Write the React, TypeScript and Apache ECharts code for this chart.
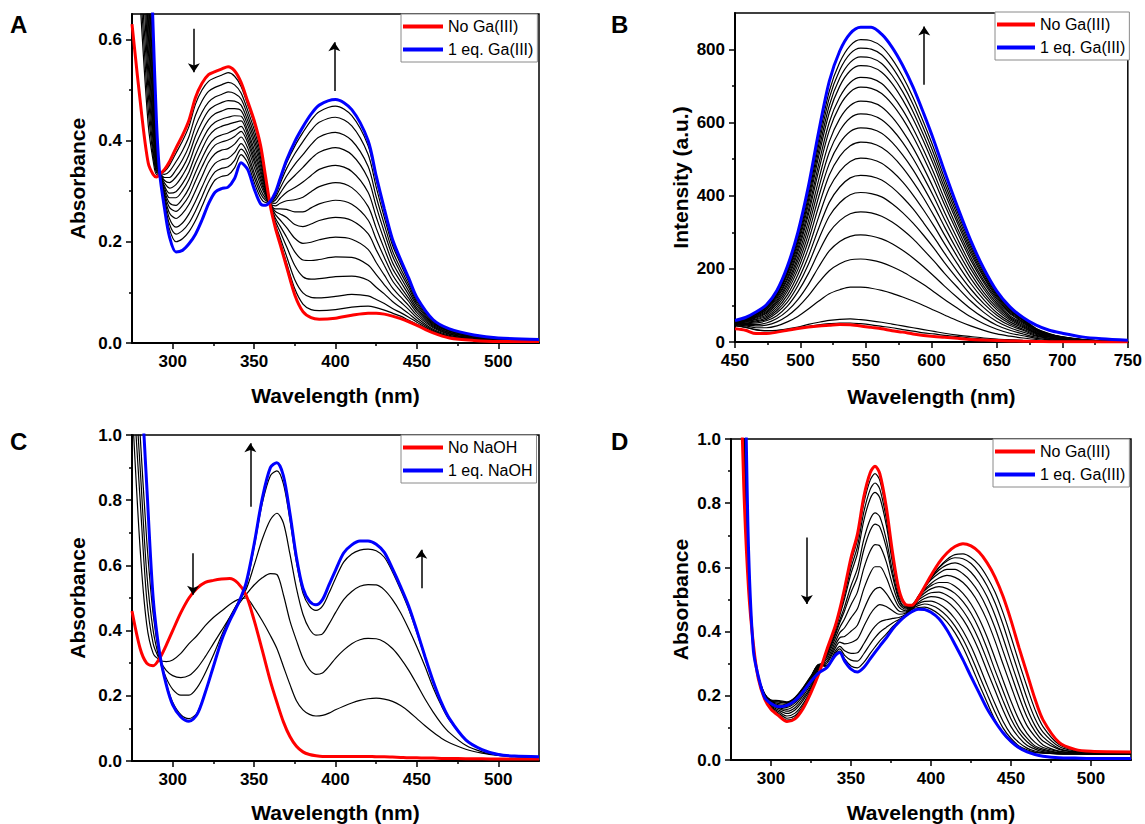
import React, { useEffect, useRef } from "react";
import * as echarts from "echarts";

const FONT = '"Liberation Sans", Arial, Helvetica, sans-serif';

// ---------------- Panel A : UV-Vis titration with Ga(III) ----------------
const aWl = [275, 281, 285, 288, 290, 292, 295, 298, 302, 306, 310, 314, 318, 322, 326, 330, 334, 338, 342, 346, 350, 354, 357, 360, 363, 366, 370, 375, 380, 385, 390, 400, 410, 420, 425, 430, 435, 440, 445, 450, 460, 470, 485, 500, 525];
const aRed = [0.63, 0.45, 0.355, 0.333, 0.328, 0.333, 0.343, 0.358, 0.385, 0.41, 0.44, 0.485, 0.513, 0.53, 0.536, 0.541, 0.546, 0.538, 0.515, 0.478, 0.44, 0.39, 0.33, 0.27, 0.228, 0.195, 0.15, 0.095, 0.062, 0.05, 0.047, 0.049, 0.055, 0.059, 0.059, 0.057, 0.053, 0.048, 0.042, 0.035, 0.02, 0.01, 0.005, 0.003, 0.003];
const aBlue = [1.3, 1.1, 0.9, 0.62, 0.44, 0.335, 0.265, 0.21, 0.18, 0.183, 0.196, 0.215, 0.243, 0.275, 0.298, 0.305, 0.308, 0.325, 0.356, 0.343, 0.305, 0.275, 0.272, 0.28, 0.297, 0.325, 0.362, 0.398, 0.427, 0.452, 0.47, 0.481, 0.461, 0.4, 0.33, 0.265, 0.205, 0.165, 0.128, 0.09, 0.046, 0.028, 0.016, 0.01, 0.007];
const aMix01 = [0.95, 0.62, 0.43, 0.36, 0.333, 0.335, 0.339, 0.351, 0.375, 0.399, 0.428, 0.472, 0.5, 0.517, 0.524, 0.529, 0.534, 0.527, 0.507, 0.471, 0.433, 0.384, 0.327, 0.27, 0.231, 0.2, 0.158, 0.107, 0.077, 0.066, 0.064, 0.066, 0.071, 0.073, 0.07, 0.065, 0.059, 0.053, 0.045, 0.037, 0.021, 0.011, 0.005, 0.003, 0.003];
const aMix02 = [0.95, 0.66, 0.46, 0.37, 0.337, 0.335, 0.333, 0.339, 0.358, 0.38, 0.408, 0.45, 0.478, 0.497, 0.505, 0.51, 0.515, 0.51, 0.494, 0.46, 0.422, 0.375, 0.322, 0.271, 0.235, 0.208, 0.171, 0.125, 0.099, 0.09, 0.089, 0.092, 0.096, 0.093, 0.086, 0.078, 0.068, 0.06, 0.051, 0.041, 0.023, 0.012, 0.006, 0.004, 0.004];
const aMix03 = [0.95, 0.7, 0.49, 0.38, 0.34, 0.335, 0.327, 0.327, 0.342, 0.362, 0.389, 0.428, 0.456, 0.476, 0.486, 0.491, 0.496, 0.493, 0.482, 0.45, 0.412, 0.366, 0.318, 0.272, 0.241, 0.22, 0.19, 0.153, 0.131, 0.126, 0.127, 0.131, 0.132, 0.124, 0.11, 0.097, 0.082, 0.07, 0.058, 0.045, 0.025, 0.013, 0.007, 0.004, 0.004];
const aMix04 = [0.95, 0.75, 0.52, 0.395, 0.345, 0.335, 0.321, 0.317, 0.328, 0.346, 0.372, 0.409, 0.437, 0.459, 0.469, 0.475, 0.479, 0.478, 0.47, 0.44, 0.402, 0.358, 0.314, 0.273, 0.247, 0.231, 0.209, 0.18, 0.164, 0.163, 0.165, 0.17, 0.169, 0.154, 0.135, 0.115, 0.096, 0.081, 0.066, 0.05, 0.027, 0.015, 0.008, 0.005, 0.004];
const aMix05 = [0.95, 0.8, 0.55, 0.41, 0.35, 0.335, 0.316, 0.306, 0.313, 0.331, 0.355, 0.391, 0.419, 0.441, 0.453, 0.458, 0.463, 0.463, 0.459, 0.431, 0.393, 0.35, 0.31, 0.274, 0.254, 0.243, 0.228, 0.207, 0.197, 0.199, 0.204, 0.209, 0.205, 0.185, 0.159, 0.134, 0.109, 0.091, 0.074, 0.055, 0.03, 0.017, 0.009, 0.006, 0.005];
const aMix06 = [0.95, 0.85, 0.58, 0.425, 0.355, 0.335, 0.31, 0.296, 0.299, 0.315, 0.338, 0.372, 0.4, 0.423, 0.436, 0.442, 0.446, 0.449, 0.448, 0.421, 0.383, 0.342, 0.306, 0.275, 0.26, 0.255, 0.248, 0.234, 0.23, 0.235, 0.242, 0.248, 0.242, 0.216, 0.184, 0.153, 0.123, 0.102, 0.082, 0.06, 0.032, 0.018, 0.01, 0.006, 0.005];
const aMix07 = [0.95, 0.9, 0.61, 0.44, 0.36, 0.335, 0.306, 0.287, 0.287, 0.301, 0.323, 0.355, 0.383, 0.408, 0.422, 0.428, 0.432, 0.436, 0.439, 0.413, 0.375, 0.335, 0.302, 0.275, 0.265, 0.265, 0.264, 0.259, 0.259, 0.267, 0.275, 0.282, 0.274, 0.243, 0.205, 0.169, 0.135, 0.111, 0.088, 0.065, 0.034, 0.02, 0.011, 0.007, 0.005];
const aMix08 = [0.95, 0.95, 0.64, 0.46, 0.365, 0.335, 0.3, 0.277, 0.272, 0.285, 0.306, 0.337, 0.365, 0.39, 0.405, 0.411, 0.415, 0.421, 0.428, 0.404, 0.366, 0.327, 0.298, 0.276, 0.271, 0.276, 0.281, 0.283, 0.288, 0.299, 0.309, 0.317, 0.307, 0.27, 0.227, 0.186, 0.147, 0.121, 0.095, 0.069, 0.036, 0.021, 0.012, 0.007, 0.005];
const aMix09 = [0.95, 1.0, 0.67, 0.48, 0.37, 0.335, 0.295, 0.268, 0.26, 0.272, 0.291, 0.32, 0.348, 0.374, 0.391, 0.397, 0.401, 0.408, 0.418, 0.396, 0.358, 0.32, 0.295, 0.277, 0.276, 0.286, 0.298, 0.307, 0.318, 0.331, 0.343, 0.351, 0.339, 0.298, 0.249, 0.203, 0.159, 0.13, 0.102, 0.074, 0.038, 0.023, 0.013, 0.008, 0.006];
const aMix10 = [0.95, 1.05, 0.7, 0.5, 0.38, 0.335, 0.29, 0.257, 0.246, 0.256, 0.274, 0.301, 0.329, 0.357, 0.374, 0.381, 0.384, 0.393, 0.407, 0.386, 0.348, 0.312, 0.291, 0.278, 0.282, 0.296, 0.315, 0.331, 0.347, 0.364, 0.377, 0.386, 0.372, 0.325, 0.27, 0.219, 0.172, 0.139, 0.109, 0.078, 0.04, 0.024, 0.014, 0.008, 0.006];
const aMix11 = [0.95, 1.1, 0.74, 0.52, 0.39, 0.335, 0.284, 0.246, 0.229, 0.237, 0.255, 0.28, 0.308, 0.336, 0.355, 0.362, 0.365, 0.376, 0.394, 0.375, 0.337, 0.303, 0.286, 0.279, 0.287, 0.306, 0.33, 0.353, 0.372, 0.392, 0.407, 0.416, 0.4, 0.349, 0.289, 0.234, 0.182, 0.147, 0.115, 0.082, 0.042, 0.025, 0.014, 0.009, 0.006];
const aMix12 = [0.95, 1.1, 0.78, 0.55, 0.4, 0.335, 0.278, 0.235, 0.215, 0.222, 0.237, 0.261, 0.289, 0.318, 0.338, 0.345, 0.348, 0.361, 0.383, 0.366, 0.328, 0.295, 0.282, 0.279, 0.291, 0.315, 0.345, 0.374, 0.398, 0.42, 0.436, 0.446, 0.429, 0.373, 0.308, 0.248, 0.193, 0.156, 0.121, 0.086, 0.044, 0.027, 0.015, 0.009, 0.007];
const aMix13 = [0.95, 1.1, 0.82, 0.58, 0.42, 0.335, 0.273, 0.225, 0.2, 0.206, 0.22, 0.242, 0.27, 0.3, 0.322, 0.329, 0.332, 0.346, 0.372, 0.356, 0.318, 0.287, 0.278, 0.28, 0.295, 0.321, 0.356, 0.389, 0.416, 0.44, 0.457, 0.468, 0.449, 0.39, 0.322, 0.259, 0.2, 0.161, 0.125, 0.088, 0.045, 0.027, 0.016, 0.01, 0.007];
const aMixes = [aMix01, aMix02, aMix03, aMix04, aMix05, aMix06, aMix07, aMix08, aMix09, aMix10, aMix11, aMix12, aMix13];

// ---------------- Panel B : emission titration ----------------
const bWl = [450, 458, 466, 474, 482, 490, 498, 506, 514, 522, 530, 538, 546, 554, 562, 570, 578, 586, 594, 602, 610, 620, 630, 640, 650, 660, 670, 680, 690, 700, 715, 730, 750];
const bRed = [36, 32, 23, 23, 27, 32, 37, 41, 44, 46, 48, 47, 44, 40, 36, 31, 27, 22, 18, 15, 13, 10, 7, 5.5, 4.4, 3, 2.2, 1.5, 1, 0.8, 0.5, 0.3, 0.2];
const bBlue = [59, 67, 82, 102, 141, 207, 300, 425, 577, 713, 796, 844, 861, 861, 842, 806, 757, 697, 626, 550, 467, 369, 278, 201, 139, 96, 67, 46, 32, 24, 14, 9, 5];
const bMix01 = [45, 40, 33, 31, 31, 33, 38, 43, 47, 50, 52, 52, 50, 47, 43, 39, 34, 30, 25, 22, 18, 15, 11, 8, 6, 5, 3.5, 2.3, 1.7, 1.1, 0.7, 0.5, 0.3];
const bMix02 = [45, 41, 34, 31, 32, 36, 41, 48, 54, 59, 62, 63, 61, 58, 54, 49, 44, 39, 34, 29, 24, 19, 15, 11, 8, 6, 4.3, 2.8, 2, 1.3, 0.8, 0.6, 0.3];
const bMix03 = [47, 44, 39, 39, 44, 55, 70, 90, 112, 132, 143, 150, 150, 147, 141, 133, 123, 112, 100, 87, 74, 58, 44, 32, 22, 16, 11, 6.8, 4.4, 2.8, 1.5, 0.9, 0.5];
const bMix04 = [48, 46, 44, 46, 55, 71, 95, 126, 163, 195, 214, 225, 227, 224, 217, 206, 192, 175, 157, 137, 116, 92, 69, 50, 35, 24, 17, 10, 6.4, 4.1, 2.2, 1.2, 0.7];
const bMix05 = [49, 48, 48, 52, 64, 85, 116, 157, 206, 249, 275, 289, 293, 290, 282, 269, 251, 230, 206, 180, 153, 121, 91, 66, 46, 32, 22, 13, 8.2, 5.2, 2.7, 1.5, 0.8];
const bMix06 = [50, 50, 52, 58, 72, 98, 137, 187, 247, 300, 332, 351, 356, 353, 344, 328, 307, 282, 252, 221, 188, 149, 112, 81, 56, 39, 27, 16, 9.9, 6.3, 3.2, 1.7, 0.9];
const bMix07 = [51, 52, 55, 62, 80, 109, 154, 212, 282, 344, 381, 403, 409, 406, 397, 378, 354, 325, 292, 256, 217, 172, 129, 94, 65, 45, 32, 18, 11, 7.2, 3.6, 2, 1];
const bMix08 = [52, 54, 58, 66, 86, 119, 169, 234, 312, 382, 424, 449, 456, 453, 443, 423, 396, 364, 326, 286, 243, 192, 145, 105, 73, 50, 35, 21, 13, 8, 4, 2.1, 1.1];
const bMix09 = [53, 55, 61, 70, 92, 129, 184, 256, 343, 421, 467, 494, 503, 500, 489, 467, 438, 402, 361, 317, 269, 213, 160, 116, 80, 55, 39, 23, 14, 8.8, 4.4, 2.3, 1.2];
const bMix10 = [54, 57, 63, 74, 98, 139, 198, 277, 372, 457, 508, 537, 547, 544, 532, 509, 477, 438, 394, 345, 293, 232, 174, 126, 88, 60, 42, 25, 15, 9.6, 4.7, 2.5, 1.3];
const bMix11 = [54, 58, 66, 78, 104, 147, 211, 295, 398, 488, 544, 576, 586, 583, 571, 546, 512, 471, 423, 371, 315, 249, 187, 135, 94, 64, 45, 26, 16, 10, 5, 2.7, 1.4];
const bMix12 = [55, 59, 68, 81, 109, 155, 223, 313, 422, 519, 578, 613, 624, 621, 608, 582, 546, 502, 451, 396, 336, 266, 200, 145, 100, 68, 48, 28, 17, 11, 5.3, 2.8, 1.5];
const bMix13 = [56, 60, 70, 84, 114, 162, 234, 330, 445, 548, 611, 647, 659, 656, 643, 615, 577, 531, 477, 418, 355, 281, 211, 153, 106, 72, 51, 30, 18, 11.5, 5.6, 3, 1.5];
const bMix14 = [56, 62, 72, 88, 119, 170, 246, 348, 470, 579, 646, 684, 697, 694, 680, 651, 611, 562, 505, 443, 376, 298, 224, 162, 112, 77, 54, 31, 19, 12, 5.9, 3.1, 1.6];
const bMix15 = [57, 62, 74, 90, 123, 176, 255, 360, 488, 601, 670, 710, 724, 721, 707, 676, 635, 584, 525, 461, 391, 310, 233, 168, 117, 80, 56, 33, 20, 12.6, 6.1, 3.2, 1.7];
const bMix16 = [57, 64, 76, 93, 127, 183, 265, 375, 509, 627, 700, 742, 756, 753, 738, 707, 663, 610, 549, 482, 409, 324, 243, 176, 122, 83, 59, 34, 21, 13, 6.4, 3.3, 1.7];
const bMix17 = [58, 64, 77, 95, 130, 188, 273, 387, 524, 647, 722, 765, 780, 777, 762, 729, 685, 630, 566, 497, 422, 334, 251, 181, 126, 86, 60, 35, 21, 13.5, 6.6, 3.4, 1.8];
const bMix18 = [58, 65, 79, 97, 133, 193, 281, 398, 540, 667, 744, 789, 804, 801, 786, 752, 706, 650, 584, 513, 435, 345, 259, 187, 130, 88, 62, 36, 22, 14, 6.8, 3.5, 1.8];
const bMix19 = [58, 66, 80, 99, 137, 198, 288, 409, 555, 686, 765, 811, 827, 824, 808, 774, 727, 669, 601, 528, 448, 355, 267, 193, 133, 91, 64, 37, 23, 14, 7, 3.6, 1.9];
const bMixes = [bMix01, bMix02, bMix03, bMix04, bMix05, bMix06, bMix07, bMix08, bMix09, bMix10, bMix11, bMix12, bMix13, bMix14, bMix15, bMix16, bMix17, bMix18, bMix19];

// ---------------- Panel C : NaOH titration ----------------
const cWl = [275, 280, 284, 288, 292, 296, 300, 305, 310, 315, 320, 325, 330, 335, 340, 345, 350, 355, 360, 364, 368, 372, 376, 380, 384, 388, 392, 396, 400, 405, 410, 415, 420, 425, 430, 435, 440, 445, 450, 455, 460, 465, 470, 480, 490, 500, 510, 525];
const cRed = [0.46, 0.345, 0.3, 0.292, 0.315, 0.355, 0.4, 0.455, 0.5, 0.53, 0.548, 0.554, 0.558, 0.56, 0.546, 0.51, 0.432, 0.34, 0.245, 0.18, 0.12, 0.075, 0.045, 0.028, 0.02, 0.016, 0.014, 0.014, 0.014, 0.014, 0.014, 0.014, 0.014, 0.013, 0.013, 0.012, 0.011, 0.01, 0.01, 0.009, 0.009, 0.008, 0.008, 0.007, 0.007, 0.006, 0.006, 0.006];
const cBlue = [1.5, 1.2, 0.85, 0.5, 0.33, 0.235, 0.172, 0.135, 0.122, 0.143, 0.21, 0.29, 0.37, 0.43, 0.48, 0.545, 0.665, 0.805, 0.9, 0.915, 0.875, 0.76, 0.625, 0.53, 0.49, 0.479, 0.495, 0.54, 0.585, 0.638, 0.663, 0.675, 0.675, 0.665, 0.64, 0.59, 0.535, 0.475, 0.4, 0.32, 0.245, 0.18, 0.13, 0.065, 0.035, 0.02, 0.015, 0.013];
const cMix1 = [1.1, 0.65, 0.42, 0.33, 0.31, 0.305, 0.31, 0.33, 0.36, 0.385, 0.415, 0.44, 0.46, 0.48, 0.495, 0.5, 0.47, 0.43, 0.385, 0.345, 0.29, 0.235, 0.185, 0.157, 0.143, 0.138, 0.14, 0.147, 0.157, 0.168, 0.178, 0.186, 0.191, 0.193, 0.19, 0.183, 0.17, 0.152, 0.13, 0.108, 0.088, 0.07, 0.056, 0.036, 0.024, 0.017, 0.013, 0.011];
const cMix2 = [1.2, 0.8, 0.5, 0.36, 0.31, 0.278, 0.262, 0.256, 0.262, 0.285, 0.32, 0.36, 0.4, 0.44, 0.477, 0.51, 0.54, 0.562, 0.575, 0.572, 0.51, 0.43, 0.37, 0.315, 0.28, 0.266, 0.27, 0.29, 0.315, 0.34, 0.36, 0.372, 0.376, 0.375, 0.365, 0.345, 0.315, 0.278, 0.235, 0.19, 0.15, 0.115, 0.087, 0.048, 0.028, 0.018, 0.014, 0.012];
const cMix3 = [1.3, 0.9, 0.58, 0.4, 0.31, 0.255, 0.22, 0.202, 0.202, 0.225, 0.27, 0.325, 0.385, 0.44, 0.485, 0.525, 0.6, 0.68, 0.74, 0.76, 0.73, 0.635, 0.53, 0.45, 0.405, 0.386, 0.39, 0.42, 0.455, 0.495, 0.52, 0.536, 0.541, 0.54, 0.525, 0.495, 0.455, 0.405, 0.35, 0.29, 0.225, 0.17, 0.125, 0.065, 0.035, 0.021, 0.015, 0.013];
const cMix4 = [1.4, 1.0, 0.68, 0.45, 0.315, 0.238, 0.18, 0.142, 0.13, 0.148, 0.212, 0.29, 0.37, 0.435, 0.485, 0.535, 0.655, 0.79, 0.875, 0.89, 0.85, 0.74, 0.61, 0.515, 0.475, 0.462, 0.475, 0.515, 0.56, 0.61, 0.635, 0.647, 0.65, 0.645, 0.625, 0.58, 0.525, 0.465, 0.393, 0.315, 0.24, 0.177, 0.128, 0.064, 0.034, 0.02, 0.015, 0.013];
const cMixes = [cMix1, cMix2, cMix3, cMix4];

// ---------------- Panel D : Ga(III) titration of the deprotonated form ----------------
const dWl = [280, 283, 286, 289, 292, 296, 300, 305, 310, 315, 320, 325, 330, 335, 340, 343, 346, 350, 354, 358, 362, 365, 368, 372, 376, 380, 384, 388, 392, 396, 400, 405, 410, 415, 420, 425, 430, 435, 440, 445, 450, 455, 460, 465, 470, 480, 490, 500, 525];
const dRed = [1.4, 0.85, 0.53, 0.36, 0.255, 0.19, 0.158, 0.137, 0.12, 0.128, 0.16, 0.21, 0.27, 0.345, 0.415, 0.47, 0.535, 0.63, 0.703, 0.82, 0.895, 0.915, 0.892, 0.79, 0.645, 0.53, 0.485, 0.482, 0.505, 0.54, 0.575, 0.615, 0.645, 0.665, 0.674, 0.667, 0.648, 0.615, 0.57, 0.51, 0.435, 0.35, 0.27, 0.19, 0.125, 0.055, 0.033, 0.027, 0.025];
const dBlue = [1.4, 1.3, 0.65, 0.34, 0.262, 0.195, 0.176, 0.166, 0.17, 0.185, 0.212, 0.245, 0.272, 0.288, 0.325, 0.335, 0.308, 0.283, 0.274, 0.288, 0.315, 0.335, 0.355, 0.38, 0.408, 0.43, 0.448, 0.462, 0.47, 0.469, 0.46, 0.44, 0.405, 0.36, 0.312, 0.26, 0.21, 0.16, 0.12, 0.085, 0.058, 0.038, 0.025, 0.017, 0.012, 0.007, 0.006, 0.005, 0.005];
const dMix01 = [1.4, 1.05, 0.55, 0.36, 0.256, 0.19, 0.16, 0.14, 0.124, 0.132, 0.163, 0.212, 0.27, 0.343, 0.411, 0.465, 0.526, 0.616, 0.686, 0.799, 0.872, 0.892, 0.871, 0.774, 0.636, 0.526, 0.484, 0.469, 0.5, 0.535, 0.566, 0.6, 0.625, 0.64, 0.642, 0.631, 0.608, 0.571, 0.523, 0.459, 0.384, 0.304, 0.228, 0.157, 0.104, 0.048, 0.03, 0.026, 0.024];
const dMix02 = [1.4, 1.05, 0.56, 0.36, 0.256, 0.191, 0.163, 0.145, 0.13, 0.138, 0.168, 0.215, 0.272, 0.34, 0.407, 0.458, 0.515, 0.599, 0.664, 0.772, 0.843, 0.863, 0.844, 0.753, 0.624, 0.521, 0.482, 0.474, 0.507, 0.539, 0.569, 0.599, 0.62, 0.63, 0.627, 0.612, 0.583, 0.543, 0.49, 0.422, 0.344, 0.268, 0.193, 0.129, 0.087, 0.042, 0.028, 0.025, 0.023];
const dMix03 = [1.4, 1.05, 0.56, 0.355, 0.257, 0.193, 0.166, 0.15, 0.137, 0.146, 0.175, 0.219, 0.275, 0.337, 0.402, 0.451, 0.503, 0.581, 0.643, 0.746, 0.814, 0.834, 0.817, 0.733, 0.612, 0.516, 0.48, 0.476, 0.51, 0.539, 0.566, 0.592, 0.608, 0.614, 0.605, 0.585, 0.553, 0.509, 0.451, 0.381, 0.305, 0.232, 0.161, 0.107, 0.072, 0.036, 0.026, 0.025, 0.023];
const dMix04 = [1.4, 1.05, 0.57, 0.355, 0.258, 0.195, 0.169, 0.155, 0.145, 0.156, 0.185, 0.225, 0.28, 0.331, 0.393, 0.436, 0.478, 0.543, 0.596, 0.687, 0.75, 0.77, 0.758, 0.688, 0.586, 0.505, 0.476, 0.478, 0.509, 0.538, 0.561, 0.582, 0.594, 0.594, 0.58, 0.556, 0.521, 0.473, 0.412, 0.34, 0.268, 0.197, 0.134, 0.089, 0.059, 0.033, 0.025, 0.023, 0.022];
const dMix05 = [1.4, 1.05, 0.57, 0.35, 0.258, 0.197, 0.172, 0.16, 0.152, 0.163, 0.192, 0.23, 0.285, 0.327, 0.387, 0.428, 0.465, 0.522, 0.57, 0.655, 0.715, 0.735, 0.726, 0.663, 0.572, 0.499, 0.474, 0.477, 0.504, 0.53, 0.55, 0.567, 0.575, 0.569, 0.553, 0.525, 0.486, 0.435, 0.371, 0.299, 0.23, 0.162, 0.107, 0.073, 0.047, 0.028, 0.023, 0.022, 0.021];
const dMix06 = [1.4, 1.05, 0.58, 0.35, 0.259, 0.199, 0.175, 0.163, 0.158, 0.171, 0.2, 0.237, 0.29, 0.321, 0.377, 0.413, 0.44, 0.484, 0.523, 0.597, 0.651, 0.671, 0.667, 0.618, 0.545, 0.488, 0.47, 0.482, 0.508, 0.528, 0.543, 0.553, 0.553, 0.541, 0.519, 0.486, 0.441, 0.384, 0.317, 0.249, 0.183, 0.125, 0.083, 0.055, 0.039, 0.026, 0.022, 0.021, 0.021];
const dMix07 = [1.4, 1.05, 0.59, 0.35, 0.26, 0.2, 0.178, 0.168, 0.164, 0.178, 0.207, 0.244, 0.293, 0.314, 0.366, 0.397, 0.412, 0.443, 0.471, 0.533, 0.582, 0.602, 0.602, 0.569, 0.517, 0.476, 0.465, 0.48, 0.502, 0.52, 0.533, 0.54, 0.534, 0.519, 0.493, 0.457, 0.409, 0.348, 0.28, 0.216, 0.152, 0.1, 0.068, 0.044, 0.034, 0.023, 0.021, 0.021, 0.02];
const dMix08 = [1.4, 1.05, 0.6, 0.345, 0.26, 0.202, 0.18, 0.172, 0.168, 0.183, 0.213, 0.25, 0.295, 0.307, 0.356, 0.381, 0.385, 0.401, 0.42, 0.469, 0.512, 0.532, 0.538, 0.519, 0.489, 0.464, 0.461, 0.479, 0.498, 0.512, 0.521, 0.523, 0.513, 0.495, 0.465, 0.425, 0.374, 0.312, 0.248, 0.185, 0.128, 0.085, 0.057, 0.039, 0.03, 0.022, 0.021, 0.02, 0.019];
const dMix09 = [1.4, 1.05, 0.61, 0.345, 0.261, 0.204, 0.182, 0.176, 0.172, 0.188, 0.218, 0.255, 0.297, 0.302, 0.347, 0.367, 0.362, 0.366, 0.377, 0.416, 0.454, 0.474, 0.484, 0.478, 0.465, 0.454, 0.457, 0.475, 0.491, 0.503, 0.509, 0.506, 0.494, 0.471, 0.438, 0.395, 0.341, 0.278, 0.217, 0.156, 0.104, 0.07, 0.046, 0.034, 0.026, 0.02, 0.02, 0.02, 0.019];
const dMix10 = [1.4, 1.05, 0.62, 0.345, 0.262, 0.205, 0.184, 0.18, 0.176, 0.192, 0.222, 0.258, 0.298, 0.296, 0.338, 0.354, 0.34, 0.332, 0.334, 0.362, 0.396, 0.416, 0.43, 0.437, 0.441, 0.444, 0.453, 0.475, 0.487, 0.494, 0.495, 0.486, 0.468, 0.44, 0.402, 0.354, 0.296, 0.234, 0.175, 0.121, 0.08, 0.054, 0.037, 0.028, 0.023, 0.02, 0.019, 0.018, 0.018];
const dMix11 = [1.4, 1.05, 0.63, 0.34, 0.262, 0.206, 0.186, 0.183, 0.179, 0.194, 0.224, 0.26, 0.298, 0.293, 0.332, 0.346, 0.326, 0.311, 0.308, 0.331, 0.361, 0.381, 0.398, 0.413, 0.427, 0.438, 0.451, 0.471, 0.481, 0.486, 0.482, 0.47, 0.448, 0.417, 0.376, 0.324, 0.265, 0.206, 0.149, 0.1, 0.067, 0.044, 0.032, 0.025, 0.022, 0.019, 0.019, 0.018, 0.018];
const dMix12 = [1.4, 1.05, 0.64, 0.34, 0.262, 0.207, 0.187, 0.185, 0.181, 0.195, 0.225, 0.262, 0.296, 0.29, 0.328, 0.339, 0.315, 0.293, 0.287, 0.304, 0.332, 0.352, 0.371, 0.392, 0.415, 0.433, 0.449, 0.469, 0.475, 0.476, 0.47, 0.454, 0.43, 0.396, 0.351, 0.296, 0.237, 0.18, 0.125, 0.083, 0.056, 0.037, 0.028, 0.023, 0.021, 0.019, 0.018, 0.018, 0.018];
const dMixes = [dMix01, dMix02, dMix03, dMix04, dMix05, dMix06, dMix07, dMix08, dMix09, dMix10, dMix11, dMix12];

// ---------------- Ticks ----------------
const uvXTicks = [300, 350, 400, 450, 500];
const uvXMinor = [325, 375, 425, 475];
const aYTicks = [0, 0.2, 0.4, 0.6];
const aYMinor = [0.1, 0.3, 0.5];
const bXTicks = [450, 500, 550, 600, 650, 700, 750];
const bXMinor = [475, 525, 575, 625, 675, 725];
const bYTicks = [0, 200, 400, 600, 800];
const bYMinor = [100, 300, 500, 700];
const cdYTicks = [0, 0.2, 0.4, 0.6, 0.8, 1.0];
const cdYMinor = [0.1, 0.3, 0.5, 0.7, 0.9];

// ---------------- Arrows (data coordinates: x, from y0 to y1) ----------------
const aArrows = [[313, 0.621, 0.535], [399.3, 0.498, 0.594]];
const bArrows = [[594.5, 704, 863]];
const cArrows = [[312.5, 0.637, 0.51], [347.7, 0.78, 0.975], [452.7, 0.53, 0.648]];
const dArrows = [[322.4, 0.693, 0.486]];

const panels = [
  {
    letter: "A", lx: 10, ly: 12,
    grid: { left: 132, top: 14, width: 407, height: 329 },
    x: { min: 275, max: 525, ticks: uvXTicks, minor: uvXMinor },
    y: { min: 0, max: 0.65, ticks: aYTicks, minor: aYMinor, dec: 1 },
    xName: "Wavelength (nm)", yName: "Absorbance", xGap: 42, yGap: 44,
    legend: { left: 401, top: 14, w: 40 },
    names: ["No Ga(III)", "1 eq. Ga(III)"],
    wl: aWl, red: aRed, blue: aBlue, mixes: aMixes, arrows: aArrows,
  },
  {
    letter: "B", lx: 611, ly: 12,
    grid: { left: 735, top: 13, width: 393, height: 329 },
    x: { min: 450, max: 750, ticks: bXTicks, minor: bXMinor },
    y: { min: 0, max: 900, ticks: bYTicks, minor: bYMinor, dec: 0 },
    xName: "Wavelength (nm)", yName: "Intensity (a.u.)", xGap: 44, yGap: 44,
    legend: { left: 995, top: 12, w: 38 },
    names: ["No Ga(III)", "1 eq. Ga(III)"],
    wl: bWl, red: bRed, blue: bBlue, mixes: bMixes, arrows: bArrows,
  },
  {
    letter: "C", lx: 10, ly: 429,
    grid: { left: 132, top: 435, width: 407, height: 326 },
    x: { min: 275, max: 525, ticks: uvXTicks, minor: uvXMinor },
    y: { min: 0, max: 1, ticks: cdYTicks, minor: cdYMinor, dec: 1 },
    xName: "Wavelength (nm)", yName: "Absorbance", xGap: 41, yGap: 44,
    legend: { left: 401, top: 435, w: 40 },
    names: ["No NaOH", "1 eq. NaOH"],
    wl: cWl, red: cRed, blue: cBlue, mixes: cMixes, arrows: cArrows,
  },
  {
    letter: "D", lx: 611, ly: 429,
    grid: { left: 731, top: 439, width: 400, height: 323 },
    x: { min: 275, max: 525, ticks: uvXTicks, minor: uvXMinor },
    y: { min: 0, max: 1, ticks: cdYTicks, minor: cdYMinor, dec: 1 },
    xName: "Wavelength (nm)", yName: "Absorbance", xGap: 42, yGap: 40,
    legend: { left: 993, top: 439, w: 40 },
    names: ["No Ga(III)", "1 eq. Ga(III)"],
    wl: dWl, red: dRed, blue: dBlue, mixes: dMixes, arrows: dArrows,
  },
];

function majorAxis(dim: "x" | "y", i: number, ax: any, name: string, gap: number, dec: number) {
  return {
    type: "value",
    gridIndex: i,
    min: ax.min,
    max: ax.max,
    position: dim === "x" ? "bottom" : "left",
    name,
    nameLocation: "middle",
    nameGap: gap,
    nameTextStyle: { fontFamily: FONT, fontSize: 21, fontWeight: "bold", color: "#000" },
    axisLine: { show: true, onZero: false, lineStyle: { color: "#000", width: 2 } },
    axisTick: { show: true, inside: false, length: 6, customValues: ax.ticks, lineStyle: { color: "#000", width: 1.5 } },
    axisLabel: {
      show: true,
      customValues: ax.ticks,
      margin: 10,
      fontFamily: FONT,
      fontSize: 17,
      fontWeight: "bold",
      color: "#000",
      formatter: (v: number) => (dec ? v.toFixed(dec) : String(Math.round(v))),
    },
    splitLine: { show: false },
  };
}

function minorAxis(dim: "x" | "y", i: number, ax: any) {
  return {
    type: "value",
    gridIndex: i,
    min: ax.min,
    max: ax.max,
    position: dim === "x" ? "bottom" : "left",
    axisLine: { show: false, onZero: false },
    axisLabel: { show: false },
    splitLine: { show: false },
    axisTick: { show: true, inside: false, length: 3, customValues: ax.minor, lineStyle: { color: "#000", width: 1.5 } },
  };
}

function lineSeries(i: number, wl: number[], vals: number[], color: string, width: number, z: number, name?: string) {
  return {
    type: "line",
    name,
    xAxisIndex: i * 2,
    yAxisIndex: i * 2,
    data: wl.map((x, k) => [x, vals[k]]),
    showSymbol: false,
    symbol: "none",
    smooth: 0.3,
    clip: true,
    z,
    silent: true,
    lineStyle: { color, width },
    itemStyle: { color },
    emphasis: { disabled: true },
  };
}

function buildOption() {
  const xAxis: any[] = [];
  const yAxis: any[] = [];
  const series: any[] = [];
  panels.forEach((p, i) => {
    xAxis.push(majorAxis("x", i, p.x, p.xName, p.xGap, 0), minorAxis("x", i, p.x));
    yAxis.push(majorAxis("y", i, p.y, p.yName, p.yGap, p.y.dec), minorAxis("y", i, p.y));
    p.mixes.forEach((m) => series.push(lineSeries(i, p.wl, m, "#000", 1.2, 2)));
    series.push(lineSeries(i, p.wl, p.red, "#ff0000", 3, 3, p.names[0]));
    const blue: any = lineSeries(i, p.wl, p.blue, "#0000ff", 3, 4, p.names[1]);
    blue.markLine = {
      silent: true,
      symbol: ["none", "arrow"],
      symbolSize: 9,
      animation: false,
      label: { show: false },
      emphasis: { disabled: true },
      lineStyle: { color: "#000", width: 1.5, type: "solid" },
      data: p.arrows.map((a) => [{ coord: [a[0], a[1]] }, { coord: [a[0], a[2]] }]),
    };
    series.push(blue);
  });
  return {
    animation: false,
    backgroundColor: "#fff",
    textStyle: { fontFamily: FONT },
    grid: panels.map((p) => ({ ...p.grid, show: true, borderColor: "#000", borderWidth: 1.5, backgroundColor: "transparent" })),
    xAxis,
    yAxis,
    legend: panels.map((p) => ({
      data: p.names.map((n) => ({ name: n, icon: "rect" })),
      left: p.legend.left,
      top: p.legend.top,
      orient: "vertical",
      itemWidth: p.legend.w,
      itemHeight: 4,
      itemGap: 4,
      padding: [3, 4, 3, 2],
      borderColor: "#8a8a8a",
      borderWidth: 1,
      backgroundColor: "#fff",
      selectedMode: false,
      textStyle: { fontFamily: FONT, fontSize: 16, color: "#000", lineHeight: 19 },
    })),
    graphic: panels.map((p) => ({
      type: "text",
      left: p.lx,
      top: p.ly,
      silent: true,
      style: { text: p.letter, fill: "#000", fontFamily: FONT, fontSize: 24, fontWeight: "bold" },
    })),
    series,
  };
}

export default function App() {
  const ref = useRef<HTMLDivElement>(null);
  useEffect(() => {
    if (!ref.current) return;
    const chart = echarts.init(ref.current, undefined, { renderer: "svg" });
    chart.setOption(buildOption() as any);
    return () => chart.dispose();
  }, []);
  return (
    <div
      ref={ref}
      style={{ position: "absolute", left: 0, top: 0, width: 1145, height: 824, background: "#fff" }}
    />
  );
}
